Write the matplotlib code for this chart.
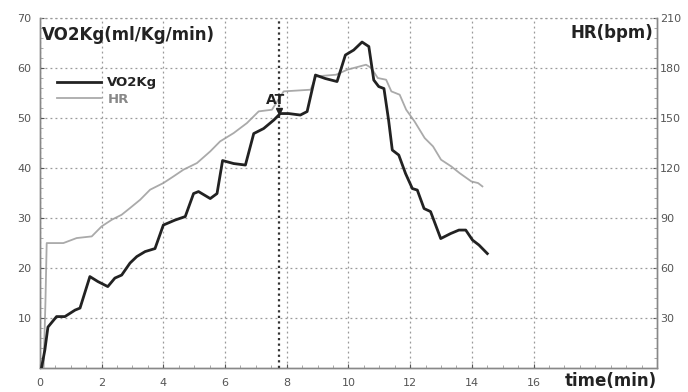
import matplotlib
matplotlib.use("Agg")
import matplotlib.pyplot as plt
from matplotlib.ticker import MultipleLocator

# VO2Kg (ml/Kg/min) vs time (min)
vo2_t = [0.05, 0.16, 0.26, 0.54, 0.81, 1.14, 1.30, 1.62, 1.88, 2.20, 2.43, 2.65, 2.92, 3.14,
         3.41, 3.73, 4.00, 4.38, 4.71, 4.98, 5.14, 5.52, 5.74, 5.92, 6.28, 6.66, 6.93, 7.25,
         7.58, 7.79, 8.06, 8.44, 8.66, 8.93, 9.25, 9.63, 9.90, 10.17, 10.44, 10.66, 10.82,
         10.98, 11.15, 11.30, 11.42, 11.63, 11.85, 12.07, 12.23, 12.45, 12.66, 12.99, 13.31,
         13.58, 13.80, 14.02, 14.23, 14.50]
vo2_v = [0.0, 3.6, 8.2, 10.3, 10.3, 11.6, 12.0, 18.3, 17.3, 16.3, 18.0, 18.6, 21.0, 22.3,
         23.3, 23.9, 28.6, 29.6, 30.3, 34.9, 35.3, 33.9, 34.9, 41.5, 40.9, 40.6, 46.9, 47.9,
         49.6, 50.9, 50.9, 50.6, 51.3, 58.6, 57.9, 57.3, 62.6, 63.6, 65.2, 64.3, 57.6,
         56.3, 55.9, 49.6, 43.6, 42.6, 38.9, 35.9, 35.6, 31.9, 31.3, 25.9, 26.9,
         27.6, 27.6, 25.6, 24.6, 22.9]

# HR (bpm) vs time (min)
hr_t = [0.12, 0.18, 0.22, 0.76, 1.19, 1.68, 2.00, 2.33, 2.65, 2.92, 3.25, 3.57, 4.00, 4.33,
        4.65, 5.09, 5.52, 5.84, 6.28, 6.71, 7.09, 7.52, 7.90, 8.77, 8.95, 9.60, 9.96, 10.57,
        10.74, 10.95, 11.22, 11.39, 11.66, 11.87, 12.14, 12.47, 12.74, 13.00, 13.33, 13.60,
        13.98, 14.20, 14.34]
hr_v = [0, 40, 75, 75, 78, 79, 85, 89, 92, 96, 101, 107, 111, 115,
        119, 123, 130, 136, 141, 147, 154, 155, 166, 167, 175, 176, 179, 182,
        180, 174, 173, 166, 164, 155, 148, 138, 133, 125, 121, 117,
        112, 111, 109]

at_time = 7.75
x_ticks = [0, 2, 4, 6, 8, 10, 12, 14, 16]
y_ticks = [10, 20, 30, 40, 50, 60, 70]
hr_ticks = [30, 60, 90, 120, 150, 180, 210]

fig = plt.figure(figsize=(6.88, 3.92), dpi=100)
ax = fig.add_axes([0.058, 0.061, 0.897, 0.893])
ax2 = ax.twinx()

tick_color = "#555555"
ax.set_xlim(0, 20)
ax.set_ylim(0, 70)
ax2.set_ylim(0, 210)

ax.set_xticks(x_ticks)
ax.set_yticks(y_ticks)
ax2.set_yticks(hr_ticks)
ax.xaxis.set_minor_locator(MultipleLocator(0.5))
ax.yaxis.set_minor_locator(MultipleLocator(2))
ax2.yaxis.set_minor_locator(MultipleLocator(6))

for a in (ax, ax2):
    a.tick_params(axis="both", which="major", labelsize=8, colors=tick_color, length=3, width=0.8)
    a.tick_params(axis="both", which="minor", length=2, width=0.6, colors="#999999")
    for s in a.spines.values():
        s.set_color("#888888")
        s.set_linewidth(1.0)
ax.tick_params(axis="y", which="both", direction="in", pad=6)
ax.tick_params(axis="x", which="both", direction="in", pad=7)
ax2.tick_params(axis="y", which="both", direction="in", pad=2)
ax.spines["top"].set_visible(False)
ax2.spines["top"].set_visible(False)

ax.grid(True, which="major", color="#999999", linestyle=(0, (1.5, 2.5)), linewidth=0.9)
ax.axhline(70, color="#999999", linestyle=(0, (1.5, 2.5)), linewidth=0.9, clip_on=False)

# AT marker line
ax.axvline(at_time, color="#333333", linestyle=(0, (1, 1.5)), linewidth=1.6, zorder=2)

l2, = ax2.plot(hr_t, hr_v, color="#aaaaaa", linewidth=1.3, label="HR", zorder=3)
l1, = ax.plot(vo2_t, vo2_v, color="#222222", linewidth=2.0, label="VO2Kg", zorder=4)
ax.set_zorder(ax2.get_zorder() + 1)
ax.patch.set_visible(False)

ax.plot([at_time], [51.4], marker="v", color="#222222", markersize=4, zorder=5)
ax.text(at_time - 0.1, 53.6, "AT", fontsize=10, fontweight="bold", color="#222222",
        ha="center", va="center", zorder=6)

ax.text(0.06, 66.6, "VO2Kg(ml/Kg/min)", fontsize=12, fontweight="bold", color="#222222",
        ha="left", va="center")
ax.text(19.87, 67.0, "HR(bpm)", fontsize=12, fontweight="bold", color="#222222",
        ha="right", va="center")
ax.text(20.0, -2.5, "time(min)", fontsize=12, fontweight="bold", color="#222222",
        ha="right", va="center", clip_on=False)

leg = ax.legend([l1, l2], ["VO2Kg", "HR"], loc="upper left", bbox_to_anchor=(0.027, 0.834),
                frameon=False, fontsize=9.5, handlelength=3.4, handletextpad=0.45,
                labelspacing=0.3, borderaxespad=0, borderpad=0)
txts = leg.get_texts()
txts[0].set_fontweight("bold")
txts[0].set_color("#222222")
txts[1].set_color("#888888")
txts[1].set_fontweight("bold")

fig.savefig("out.png", dpi=100)
